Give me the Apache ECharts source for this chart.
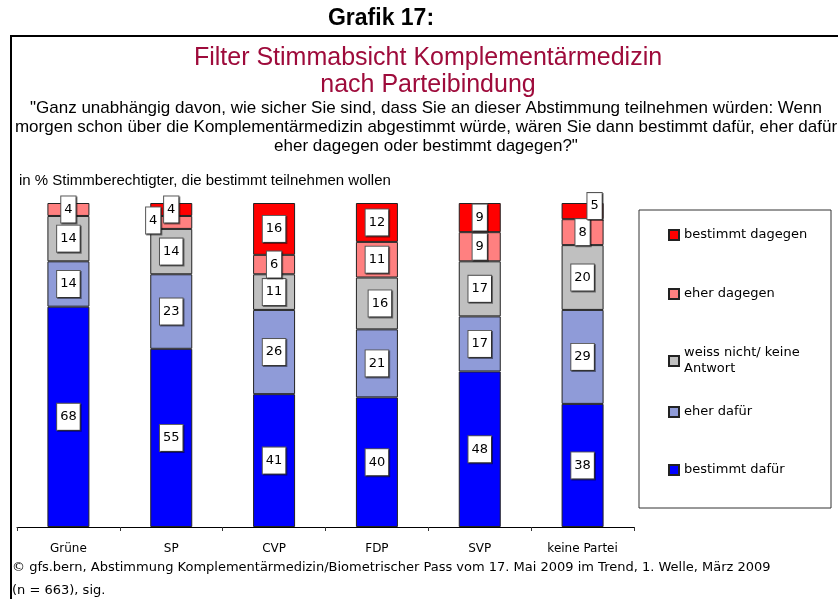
<!DOCTYPE html>
<html>
<head>
<meta charset="utf-8">
<script src="https://cdn.jsdelivr.net/npm/echarts@6/dist/echarts.min.js"></script>
<style>
  html, body { margin: 0; padding: 0; background: #fff; }
  #chart-container { width: 838px; height: 599px; }
</style>
</head>
<body>
<div id="chart-container"></div>
<script>
// parties on the x axis
var parties = ['Grüne', 'SP', 'CVP', 'FDP', 'SVP', 'keine Partei'];

// answers, stacked from bottom to top (in %)
var bestimmtDafuer   = [68, 55, 41, 40, 48, 38];
var eherDafuer       = [14, 23, 26, 21, 17, 29];
var weissNicht       = [14, 14, 11, 16, 17, 20];
var eherDagegen      = [4, 4, 6, 11, 9, 8];
var bestimmtDagegen  = [0, 4, 16, 12, 9, 5];

var seriesNames = ['bestimmt dafür', 'eher dafür', 'weiss nicht/ keine Antwort', 'eher dagegen', 'bestimmt dagegen'];
var seriesValues = [bestimmtDafuer, eherDafuer, weissNicht, eherDagegen, bestimmtDagegen];
var colors = ['#0000FF', '#8F9BD8', '#C0C0C0', '#FF8080', '#FF0000'];

// a few labels sit off-centre in the original
var labelNudge = {
  'eher dagegen': { 1: [-18, -2] },
  'bestimmt dagegen': { 5: [12, -5] },
  'weiss nicht/ keine Antwort': { 3: [3, 0] }
};

var dom = document.getElementById('chart-container');
var myChart = echarts.init(dom, null, { renderer: 'canvas' });

var series = seriesNames.map(function (name, i) {
  return {
    name: name,
    type: 'bar',
    stack: 'total',
    barWidth: 42,
    itemStyle: { color: colors[i], borderColor: '#222', borderWidth: 1 },
    label: {
      show: true,
      position: 'inside',
      color: '#000',
      fontFamily: 'DejaVu Sans',
      fontSize: 13,
      lineHeight: 15,
      backgroundColor: '#fff',
      borderColor: '#555',
      borderWidth: 1,
      padding: [6, 3, 5, 3],
      shadowColor: 'rgba(0,0,0,0.45)',
      shadowOffsetX: 1,
      shadowOffsetY: 1,
      shadowBlur: 0
    },
    data: seriesValues[i].map(function (v, j) {
      if (v === 0) return null;
      var nudge = labelNudge[name] && labelNudge[name][j];
      return nudge ? { value: v, label: { offset: nudge } } : v;
    })
  };
});

// one legend per entry so every row can be placed like the original
var legendTops = { 'bestimmt dagegen': 227, 'eher dagegen': 286, 'weiss nicht/ keine Antwort': 337, 'eher dafür': 404, 'bestimmt dafür': 462 };
var legends = seriesNames.map(function (name) {
  var twoLines = name === 'weiss nicht/ keine Antwort';
  return {
    data: [name],
    left: 668,
    top: legendTops[name],
    padding: 0,
    itemWidth: 10,
    itemHeight: 10,
    icon: 'rect',
    selectedMode: false,
    formatter: function (n) { return n === 'weiss nicht/ keine Antwort' ? 'weiss nicht/ keine\nAntwort' : n; },
    textStyle: {
      fontFamily: 'DejaVu Sans',
      fontSize: 13,
      lineHeight: 16,
      color: '#000',
      padding: twoLines ? [16, 0, 0, 0] : 0
    }
  };
});

var option = {
  animation: false,
  backgroundColor: '#fff',
  grid: { left: 17, right: 204, top: 203, bottom: 72, containLabel: false },
  xAxis: {
    type: 'category',
    data: parties,
    axisLine: { lineStyle: { color: '#000', width: 1 } },
    axisTick: { show: true, length: 4, lineStyle: { color: '#333' } },
    axisLabel: { color: '#000', fontFamily: 'DejaVu Sans', fontSize: 12, margin: 16 }
  },
  yAxis: { type: 'value', min: 0, max: 100, show: false },
  legend: legends,
  graphic: [
    { type: 'rect', shape: { x: 11, y: 36, width: 860, height: 620 }, style: { fill: 'none', stroke: '#000', lineWidth: 2 }, z: 10 },
    { type: 'rect', shape: { x: 639, y: 210, width: 192, height: 298 }, style: { fill: 'none', stroke: '#333', lineWidth: 1 } },
    { type: 'text', x: 381, y: 19, style: { text: 'Grafik 17:', font: 'bold 23px "Liberation Sans"', fill: '#000', align: 'center', verticalAlign: 'middle' } },
    { type: 'text', x: 428, y: 58, style: { text: 'Filter Stimmabsicht Komplementärmedizin', font: '25px "Liberation Sans"', fill: '#9E0B3B', align: 'center', verticalAlign: 'middle' } },
    { type: 'text', x: 428, y: 85, style: { text: 'nach Parteibindung', font: '25px "Liberation Sans"', fill: '#9E0B3B', align: 'center', verticalAlign: 'middle' } },
    { type: 'text', x: 426, y: 127, style: { text: '"Ganz unabhängig davon, wie sicher Sie sind, dass Sie an dieser Abstimmung teilnehmen würden: Wenn\nmorgen schon über die Komplementärmedizin abgestimmt würde, wären Sie dann bestimmt dafür, eher dafür\neher dagegen oder bestimmt dagegen?"', font: '17px "Liberation Sans"', lineHeight: 19, fill: '#000', align: 'center', verticalAlign: 'middle' } },
    { type: 'text', x: 19, y: 181, style: { text: 'in % Stimmberechtigter, die bestimmt teilnehmen wollen', font: '15px "Liberation Sans"', fill: '#000', align: 'left', verticalAlign: 'middle' } },
    { type: 'text', x: 12, y: 568, style: { text: '© gfs.bern, Abstimmung Komplementärmedizin/Biometrischer Pass vom 17. Mai 2009 im Trend, 1. Welle, März 2009', font: '13px "DejaVu Sans"', fill: '#000', align: 'left', verticalAlign: 'middle' } },
    { type: 'text', x: 12, y: 591, style: { text: '(n = 663), sig.', font: '13px "DejaVu Sans"', fill: '#000', align: 'left', verticalAlign: 'middle' } }
  ],
  series: series
};

myChart.setOption(option);
window.addEventListener('resize', myChart.resize);
</script>
</body>
</html>
